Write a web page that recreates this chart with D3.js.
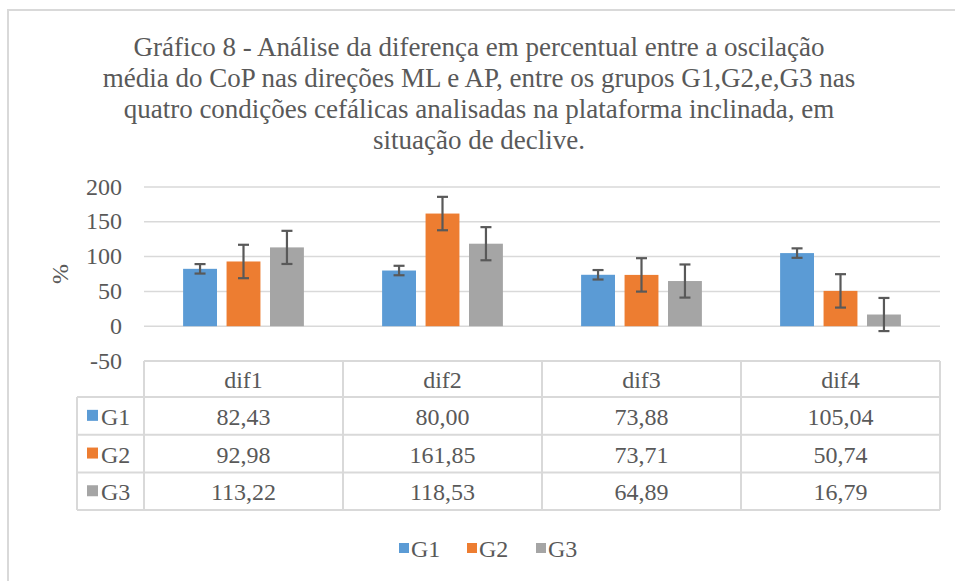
<!DOCTYPE html>
<html>
<head>
<meta charset="utf-8">
<script src="https://cdn.jsdelivr.net/npm/d3@7"></script>
</head>
<body style="margin:0">
<div id="chart"></div>
<script>
// data
const titleLines = [
  'Gráfico 8 - Análise da diferença em percentual entre a oscilação',
  'média do CoP nas direções ML e AP, entre os grupos G1,G2,e,G3 nas',
  'quatro condições cefálicas analisadas na plataforma inclinada, em',
  'situação de declive.'
];
const categories = ['dif1', 'dif2', 'dif3', 'dif4'];
const seriesNames = ['G1', 'G2', 'G3'];
const g1Values = [82.43, 80.00, 73.88, 105.04];
const g2Values = [92.98, 161.85, 73.71, 50.74];
const g3Values = [113.22, 118.53, 64.89, 16.79];
// error bar half-lengths, one per series (estimated)
const errorValues = [6.8, 24.0, 23.8];
const yTicks = [-50, 0, 50, 100, 150, 200];
const colors = ['#5b9bd5', '#ed7d31', '#a5a5a5'];

const width = 955, height = 581;
const plot = {left: 144, right: 940, top: 187, bottom: 361};
const textColor = '#595959';

const series = seriesNames.map((name, i) => ({
  name, color: colors[i], err: errorValues[i],
  values: [g1Values, g2Values, g3Values][i]
}));

const fmt = d3.formatLocale({decimal: ',', thousands: '.', grouping: [3], currency: ['', '']}).format('.2f');

const svg = d3.select('#chart').append('svg')
  .attr('width', width).attr('height', height)
  .attr('font-family', 'Liberation Serif');

// outer frame (runs off the right and bottom edges)
svg.append('rect')
  .attr('x', 8).attr('y', 10).attr('width', width + 20).attr('height', height + 20)
  .attr('fill', 'none').attr('stroke', '#d9d9d9').attr('stroke-width', 2);

// scales
const x = d3.scaleBand(categories, [plot.left, plot.right]);
const xInner = d3.scaleBand(seriesNames, [0, x.bandwidth()])
  .paddingInner(0.22).paddingOuter(0.9);
const y = d3.scaleLinear([-50, 200], [plot.bottom, plot.top]);

// gridlines
svg.append('g').selectAll('line')
  .data(yTicks.filter(t => t >= 0)).join('line')
  .attr('x1', plot.left).attr('x2', plot.right)
  .attr('y1', d => y(d)).attr('y2', d => y(d))
  .attr('stroke', '#d9d9d9').attr('stroke-width', 1.5);

// y axis labels as plain text (hyphen for negatives, like the original)
svg.selectAll('text.tick').data(yTicks).join('text').classed('tick', true)
  .attr('x', plot.left - 22).attr('y', d => y(d))
  .attr('dy', '0.32em').attr('text-anchor', 'end')
  .text(d => String(d));

svg.append('text')
  .attr('transform', `translate(68,${(plot.top + plot.bottom) / 2})rotate(-90)`)
  .attr('text-anchor', 'middle')
  .text('%');

// bars
const groups = svg.append('g').selectAll('g')
  .data(series).join('g');

groups.selectAll('rect')
  .data(s => s.values.map((v, j) => ({s, v, cat: categories[j]})))
  .join('rect')
  .attr('x', d => x(d.cat) + xInner(d.s.name))
  .attr('width', xInner.bandwidth())
  .attr('y', d => y(Math.max(0, d.v)))
  .attr('height', d => Math.abs(y(d.v) - y(0)))
  .attr('fill', d => d.s.color);

// error bars
const errs = groups.selectAll('g.err')
  .data(s => s.values.map((v, j) => ({s, v, cat: categories[j]})))
  .join('g').classed('err', true)
  .attr('transform', d => `translate(${x(d.cat) + xInner(d.s.name) + xInner.bandwidth() / 2},0)`)
  .attr('stroke', '#595959').attr('stroke-width', 2.2);
errs.append('line')
  .attr('y1', d => y(d.v + d.s.err)).attr('y2', d => y(d.v - d.s.err));
errs.append('line').attr('x1', -5.5).attr('x2', 5.5)
  .attr('y1', d => y(d.v + d.s.err)).attr('y2', d => y(d.v + d.s.err));
errs.append('line').attr('x1', -5.5).attr('x2', 5.5)
  .attr('y1', d => y(d.v - d.s.err)).attr('y2', d => y(d.v - d.s.err));

// data table under the plot
const headerH = 36, rowH = 37.7, keyLeft = 77;
const tableTop = plot.bottom;
const rowTop = i => tableTop + headerH + i * rowH;
const tableBottom = rowTop(series.length);
const table = svg.append('g');
const tline = (x1, y1, x2, y2) => table.append('line')
  .attr('x1', x1).attr('y1', y1).attr('x2', x2).attr('y2', y2)
  .attr('stroke', '#d9d9d9').attr('stroke-width', 2);

tline(plot.left, tableTop, plot.right, tableTop);
d3.range(series.length + 1).forEach(i => tline(keyLeft, rowTop(i), plot.right, rowTop(i)));
tline(keyLeft, rowTop(0), keyLeft, tableBottom);
categories.forEach(c => tline(x(c), tableTop, x(c), tableBottom));
tline(plot.right, tableTop, plot.right, tableBottom);

table.selectAll('text.head').data(categories).join('text').classed('head', true)
  .attr('x', d => x(d) + x.bandwidth() / 2).attr('y', tableTop + headerH / 2)
  .attr('dy', '0.36em').attr('text-anchor', 'middle')
  .text(d => d);

const rows = table.selectAll('g.row').data(series).join('g').classed('row', true)
  .attr('transform', (d, i) => `translate(0,${rowTop(i) + rowH / 2})`);
rows.append('rect')
  .attr('x', 87).attr('y', -6).attr('width', 11).attr('height', 11)
  .attr('fill', d => d.color);
rows.append('text')
  .attr('x', 101).attr('dy', '0.38em')
  .text(d => d.name);
rows.selectAll('text.val')
  .data(d => d.values.map((v, j) => ({v, cat: categories[j]})))
  .join('text').classed('val', true)
  .attr('x', d => x(d.cat) + x.bandwidth() / 2).attr('dy', '0.38em')
  .attr('text-anchor', 'middle')
  .text(d => fmt(d.v));

// legend
const legendX = [399, 467, 536];
const legend = svg.append('g').selectAll('g').data(series).join('g')
  .attr('transform', (d, i) => `translate(${legendX[i]},548)`);
legend.append('rect')
  .attr('y', -5).attr('width', 10).attr('height', 10)
  .attr('fill', d => d.color);
legend.append('text')
  .attr('x', 12).attr('dy', '0.38em')
  .text(d => d.name);

// one font, size and colour for every text
svg.selectAll('text')
  .style('font-family', '"Liberation Serif"')
  .style('font-size', '24px')
  .attr('fill', textColor);

// title, one text per line, a bit larger than the rest
svg.selectAll('text.title').data(titleLines).join('text').classed('title', true)
  .attr('text-anchor', 'middle')
  .attr('x', 479).attr('y', (d, i) => 56 + i * 31)
  .style('font-family', '"Liberation Serif"')
  .style('font-size', '27px')
  .attr('fill', textColor)
  .text(d => d);
</script>
</body>
</html>
